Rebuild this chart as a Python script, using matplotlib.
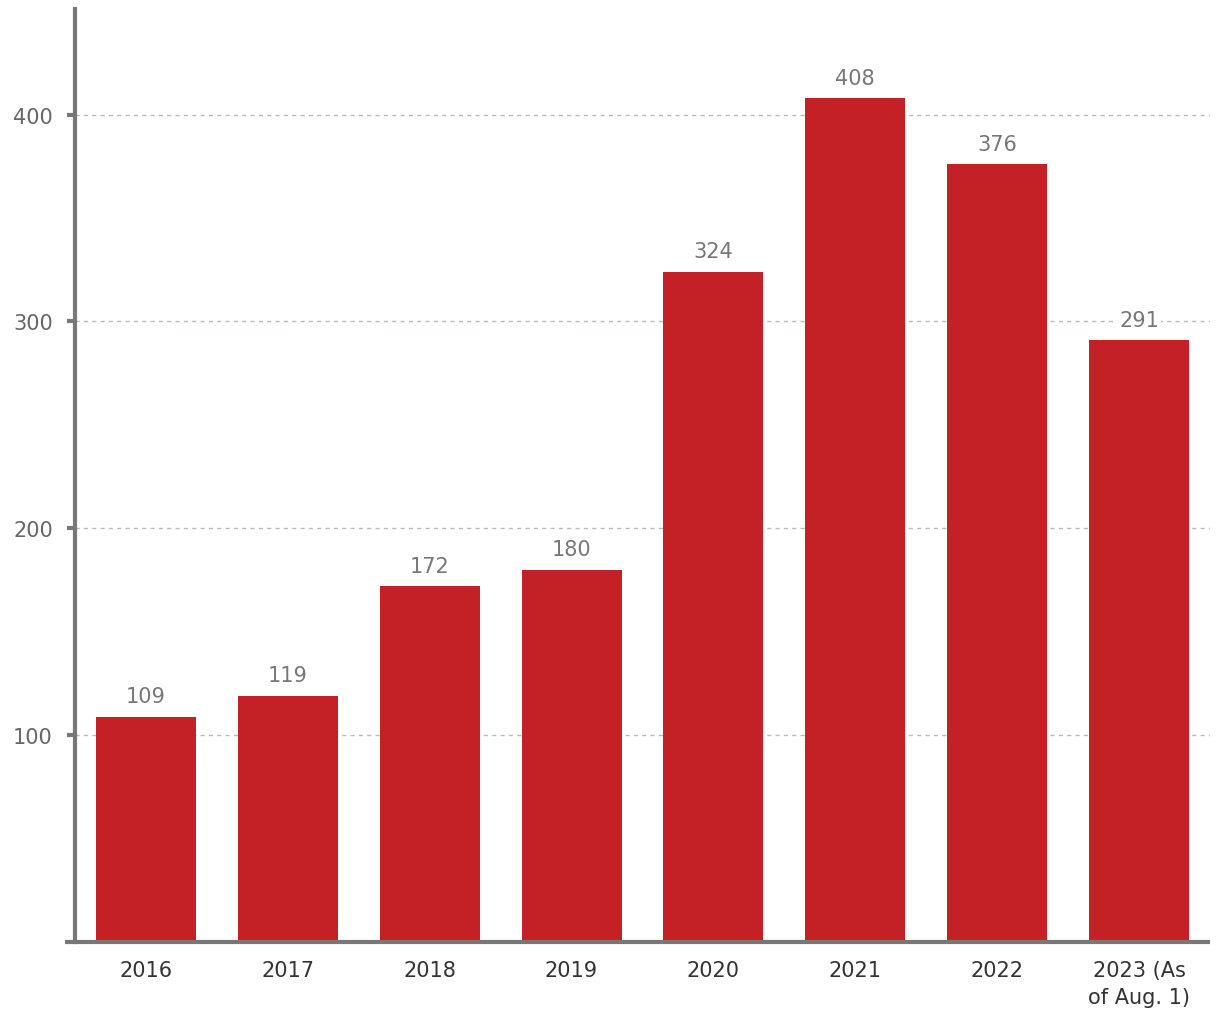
import matplotlib
matplotlib.use("Agg")
import matplotlib.pyplot as plt

# data
years = ["2016", "2017", "2018", "2019", "2020", "2021", "2022", "2023 (As\nof Aug. 1)"]
counts = [109, 119, 172, 180, 324, 408, 376, 291]
yticks = [100, 200, 300, 400]

plt.rcParams['font.family'] = ['DejaVu Sans']

RED = "#c42127"
AXIS = "#777777"

fig = plt.figure(figsize=(12.2, 10.2), dpi=100)
ax = fig.add_axes([75/1220, 77/1020, 1135/1220, 933/1020])

x = list(range(len(years)))
bars = ax.bar(x, counts, width=0.704, color=RED, zorder=2)

ax.set_xlim(-0.5, 7.5)
ax.set_ylim(0, 451)
ax.set_yticks(yticks)
ax.set_xticks(x)
ax.set_xticklabels(years, linespacing=1.45)

ax.grid(axis="y", linestyle=(0, (3, 3)), color="#b5bcc0", linewidth=1, zorder=0)

for s in ["top", "right"]:
    ax.spines[s].set_visible(False)
ax.spines["left"].set_color(AXIS)
ax.spines["left"].set_linewidth(3)
ax.spines["bottom"].set_visible(False)
# x axis line runs a bit past the y axis on the left
ax.plot([-0.009, 1.0], [0, 0], transform=ax.transAxes, color=AXIS,
        linewidth=3, clip_on=False, zorder=5, solid_capstyle="butt")

ax.tick_params(axis="y", length=6, width=3, color=AXIS, labelsize=15,
               labelcolor="#666666", pad=10)
ax.tick_params(axis="x", length=0, labelsize=15, labelcolor="#333333", pad=13)

for b, v in zip(bars, counts):
    ax.text(b.get_x() + b.get_width()/2, v + 5, str(v), ha="center", va="bottom",
            fontsize=15, color="#777777", zorder=4,
            bbox=dict(facecolor="white", edgecolor="none", pad=1.5))

fig.savefig("out.png", dpi=100)
